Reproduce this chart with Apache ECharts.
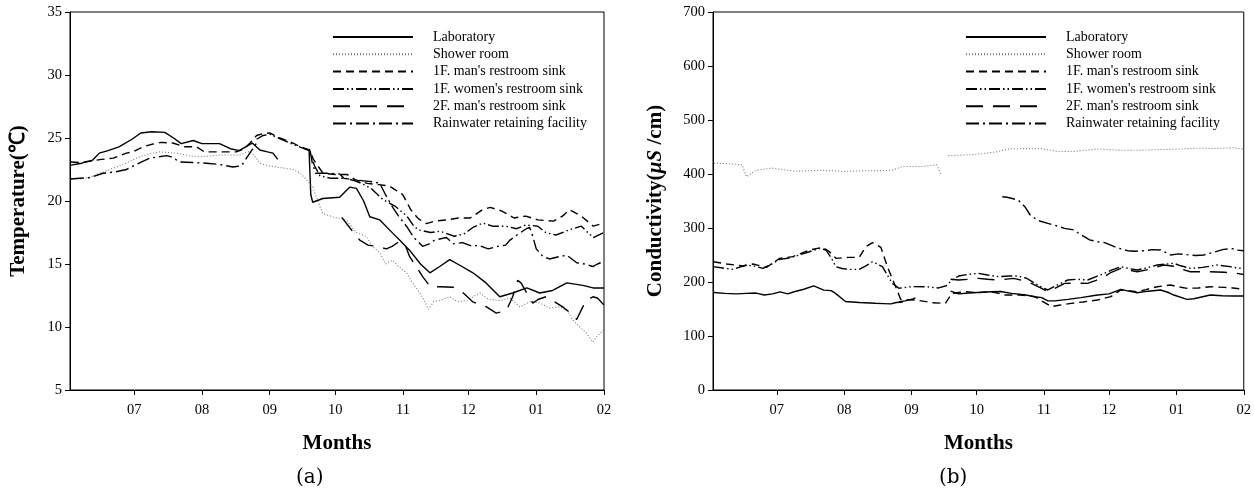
<!DOCTYPE html>
<html>
<head>
<meta charset="utf-8">
<script src="https://cdn.jsdelivr.net/npm/echarts@6/dist/echarts.min.js"></script>
<style>
  html, body { margin: 0; padding: 0; background: #fff; }
  #chart { width: 1254px; height: 491px; }
</style>
</head>
<body>
<div id="chart"></div>
<script>
// x values are days counted from June 1; month ticks sit on the first day of each month
const monthTicks = [30, 61, 92, 122, 153, 183, 214, 245];
const monthLabels = ['07', '08', '09', '10', '11', '12', '01', '02'];
const seriesNames = ['Laboratory', 'Shower room', "1F. man's restroom sink", "1F. women's restroom sink", "2F. man's restroom sink", 'Rainwater retaining facility'];
const tempTicks = [5, 35, 5];      // min, max, step (°C)
const condTicks = [0, 700, 100];   // min, max, step (µS/cm)

// ---- (a) temperature, °C ----
const tempLab = [[1,22.85],[6,23.0],[11,23.25],[14,23.8],[18,24.0],[23,24.3],[29,24.9],[33,25.4],[38,25.5],[44,25.45],[48,25.0],[51.5,24.55],[57,24.8],[61,24.55],[69,24.55],[74,24.15],[78,24.0],[81,24.3],[84,24.6],[87.5,24.05],[91,23.9],[93.5,23.8],[95.7,23.3],[100,null],[110,24.1],[110.8,20.5],[111.7,19.9],[116.3,20.2],[124,20.3],[128.6,21.1],[131.7,21.0],[135,20.0],[137.8,18.75],[142.4,18.5],[148.3,17.45],[152,16.8],[156,16.1],[161,15.0],[165.3,14.3],[169.8,14.8],[174.4,15.35],[179,14.9],[185,14.3],[191,13.5],[197.3,12.4],[203.2,12.7],[209.7,13.1],[215.6,12.7],[221.5,12.9],[228,13.5],[235.3,13.3],[240,13.1],[245,13.1]];
const tempShower = [[1,21.8],[5,21.75],[9.7,21.9],[14,22.2],[18.8,22.5],[25,22.9],[31,23.4],[36,23.7],[41.7,23.9],[49.3,23.8],[55,23.6],[60,23.5],[69,23.65],[78.3,23.65],[82.9,23.95],[85,23.6],[87.5,23.0],[91,22.8],[95,22.7],[102.7,22.5],[106,22.2],[108.8,21.7],[111.7,21.1],[114,20.0],[116.3,19.0],[120.9,18.75],[127,18.5],[131.7,17.5],[136.2,17.2],[139,16.4],[142.4,15.9],[145,15.0],[148.3,15.3],[151,14.8],[154.6,14.3],[157,13.6],[160.7,12.7],[163,12.0],[164.7,11.4],[167,12.0],[169.8,12.1],[174.4,12.4],[178,12.0],[182,12.1],[188.2,12.7],[192,12.2],[197.3,12.1],[202,12.3],[206.5,11.6],[211,12.0],[215.6,11.9],[220,11.5],[224.8,11.6],[228,11.3],[230.7,10.55],[234,10.0],[237,9.5],[239.9,8.8],[242,9.3],[245,9.8]];
const tempMan1F = [[1,23.1],[5,23.05],[9.5,23.15],[15,23.3],[20.4,23.4],[26.4,23.8],[29.5,23.9],[34,24.3],[38,24.5],[42.2,24.65],[47.6,24.6],[53.1,24.3],[58.5,24.3],[62.1,23.9],[69.4,23.9],[76.7,23.9],[80.3,24.15],[83,24.6],[86,25.2],[89,25.35],[92,25.4],[96,25.05],[102.7,24.6],[106,24.3],[110.3,24.05],[112,23.3],[114.8,22.6],[116.4,22.2],[122,22.1],[127.5,22.1],[131.1,21.7],[136.6,21.4],[142,21.3],[146.6,21.2],[149.3,20.9],[152.9,20.5],[156.6,19.3],[160,18.6],[163.7,18.2],[167.5,18.4],[172.9,18.5],[178.4,18.65],[183.8,18.65],[189.3,19.3],[192.9,19.5],[198.3,19.2],[203.8,18.65],[209.2,18.8],[214.7,18.5],[221.9,18.4],[226,18.8],[229.2,19.3],[234.6,18.8],[240.1,18.0],[245,18.25]];
const tempWoman1F = [[86,24.9],[89,25.2],[92,25.3],[96,25.0],[102.7,24.5],[110,24.0],[112.5,22.8],[115,22.0],[120,21.8],[127,21.8],[131,21.6],[134,21.4],[138.4,21.0],[143.9,20.1],[149.3,19.6],[154.8,18.8],[158,18.0],[160.2,17.7],[165.6,17.5],[170,17.6],[176.5,17.2],[181,17.4],[185,17.9],[189.5,18.25],[194,18.0],[200,18.0],[205,17.8],[209.2,18.1],[214.7,18.0],[218.3,17.5],[223,17.3],[229,17.7],[234.6,18.0],[237,17.6],[240.1,17.1],[245,17.5]];
const tempMan2F = [[125,18.7],[129,17.8],[133.2,16.9],[137,16.5],[140.9,16.4],[145.4,16.2],[148,16.4],[151.5,16.8],[154,16.5],[156,15.6],[159,14.8],[162,14.0],[165.5,13.2],[170,13.2],[176,13.15],[180.6,12.7],[184.9,12.0],[188,11.8],[191.2,11.6],[195.7,11.1],[200.3,11.3],[203.2,12.4],[205.5,13.7],[207,13.5],[209,12.9],[212.4,11.9],[215,12.2],[218.5,12.4],[221.5,12.1],[226.1,11.6],[229,11.2],[232.5,10.6],[235,11.5],[237,12.1],[239.9,12.4],[242,12.3],[245,11.75]];
const tempRain = [[1,21.75],[5,21.8],[9.7,21.85],[15.7,22.2],[21,22.3],[26.4,22.5],[31,22.9],[37.1,23.4],[44.8,23.6],[47,23.5],[50.8,23.1],[56.9,23.05],[63,23.0],[69.1,22.9],[75.2,22.7],[79.1,22.8],[82.9,23.8],[86,24.6],[88,null],[110.5,24.0],[111.5,23.0],[113,22.2],[118,22.2],[124,22.15],[126,21.8],[130,21.7],[135,21.6],[140,21.5],[142.4,21.4],[145,20.5],[148.3,19.5],[151,18.8],[154.6,18.0],[158,17.1],[162,16.4],[165,16.6],[167.5,16.9],[172.9,17.1],[176,16.6],[180.2,16.7],[184.9,16.4],[187.4,16.5],[192,16.2],[196.5,16.4],[200,16.5],[202,16.9],[206,17.4],[209.5,17.8],[211,17.9],[212.4,17.2],[214,16.2],[217,15.6],[220,15.4],[224.8,15.6],[228,15.7],[232.5,15.1],[236,15.0],[239.9,14.8],[242,15.0],[245,15.2]];

// ---- (b) conductivity, µS/cm ----
const condLab = [[1,180.5],[6,179],[11.4,178],[16,179],[20.5,179.5],[24.2,176],[28,178],[31.5,181.6],[35,178],[38,182],[42.4,186.6],[47,192.8],[51.6,185],[55,184],[57,179],[61.6,164],[68,162],[75.3,160.6],[79,160],[82.6,159.4],[85,162],[88,163],[90,null],[110,183],[113.7,178],[120,180],[128.9,182],[133,182.5],[138.1,179],[144.7,176],[148.8,172.8],[152,171],[154.8,165],[158,165],[164,167.9],[170,171],[177.7,175.9],[183,178],[188.4,186.4],[192,183],[196,180.2],[201,183],[206.7,185.2],[210,181],[212.8,175.9],[218.9,167.9],[222,169],[229.6,175.9],[235,174.5],[240,174],[245,174]];
const condShower = [[1,420],[8,419],[14,417],[15.5,400],[16,395],[20.5,407],[27.8,411],[33,408],[38.8,405],[49.7,407],[60.7,405],[71.7,406],[82.6,406.5],[88.1,414],[97.2,414],[103.6,417],[105.4,400],[106.5,null],[109,434],[119.2,435.6],[126.5,438.6],[131,441],[137.4,446.7],[145,447],[152,446.7],[156,444],[159.3,441.7],[166.6,441.7],[172,444],[177.6,446],[184,445],[190.4,443.6],[196,444],[203.2,444.8],[214.1,446],[225.1,448],[231,447],[236.1,448],[240,448.5],[245,446]];
const condMan1F = [[0.7,237.6],[6.9,233.3],[14.5,229.6],[19,233.3],[25.2,227.2],[31.3,243.8],[37.4,246.9],[45,259.3],[51.1,264.2],[54.2,256.1],[57.2,243.8],[63.3,245.6],[67.9,245.6],[71,265.4],[74.1,272.8],[77.9,264.2],[80.9,228.4],[84.7,191.3],[87,167.9],[93.8,166.7],[101.5,161.7],[107.6,160.5],[110.6,179],[116.7,182],[122,180],[128.9,182],[135,175.9],[142,176],[148.8,172.8],[152,165],[156.4,154.3],[160,157],[165.5,160.5],[171,163],[177.7,166.7],[183.8,172.8],[188.4,185.2],[192,184],[196,182],[200,186],[205.2,191.3],[211.3,194.4],[215,191],[218.9,188.3],[224,189],[229.6,191.3],[236,190],[240,189],[245,186.4]];
const condWoman1F = [[0.7,228.4],[5,226],[9.8,223.4],[16,231.5],[20,229],[23.6,225.3],[27,232],[31.3,242],[35,244],[40.4,250],[45,256],[49.6,262.3],[52.6,259.3],[55,245],[57.2,228.4],[60,225],[63.3,223.4],[67.9,223.4],[71,230],[74.1,237.6],[78.6,228.4],[81,212],[83.2,197.5],[86.2,188.3],[92,191.5],[98.4,191.3],[104.5,189],[108,193],[110.6,203.7],[113.7,211],[118,214],[122.8,216],[127,213],[132,209.9],[137,211],[141.1,211],[145,207],[148.8,197.5],[152,190],[154.8,185.2],[159,194],[164,203.7],[168,205],[173.1,203.7],[177,210],[180.8,216],[184,222],[188.4,228.4],[192,225],[196,222.2],[200,226],[205.2,231.5],[212.8,234.6],[216,230],[220.4,225.3],[226,227],[232.6,231.5],[238.7,228.4],[242,226],[245,225]];
const condMan2F = [[86.2,163.5],[89,165],[92.3,168],[96.9,176],[97.5,null],[110,205],[113.7,203.7],[118,205],[122.8,206.8],[127,205],[132,203.7],[139,206.8],[143,203],[147.2,197.5],[151,190],[154.8,182],[158,188],[162.5,197.5],[168,198],[173.1,197.5],[177,203],[180.8,209.9],[184,218],[188.4,225.3],[192,222],[196,219],[202,224],[208.2,231.5],[214.3,228.4],[217,223],[220.4,219],[225,219],[229.6,219],[236,218],[241.8,216],[245,214]];
const condRain = [[133.8,358],[136,357],[138,355],[141.1,351.9],[144.2,339.4],[146.5,325],[148.8,318],[151,313],[154.8,308.6],[158,305],[162.5,299.4],[167.1,296.3],[169,290],[171.6,283.9],[174,278],[177.7,274.6],[181,273],[185.4,265.4],[188,262],[191.5,258],[195,257],[199.1,258],[203,260],[206.7,259.3],[209,255],[211.3,250],[215,252],[220.4,250],[223,249],[226.6,250],[231,255],[235.7,260.5],[240.3,261.7],[242,259],[245,258]];

const SERIF = '"Liberation Serif", "Times New Roman", serif';

// line look for each site, in legend order
const lineLooks = [
  { color: '#000', width: 1.4, type: 'solid' },
  { color: '#777', width: 1.1, type: [1, 2] },
  { color: '#000', width: 1.4, type: [8, 5] },
  { color: '#000', width: 1.4, type: [11, 3, 1.5, 3, 1.5, 3] },
  { color: '#000', width: 1.4, type: [17, 10] },
  { color: '#000', width: 1.4, type: [13, 4, 2, 4] }
];

const tempData = [tempLab, tempShower, tempMan1F, tempWoman1F, tempMan2F, tempRain];
const condData = [condLab, condShower, condMan1F, condWoman1F, condMan2F, condRain];

function makeSeries(dataSets, axisIndex) {
  return dataSets.map((d, i) => ({
    name: seriesNames[i],
    type: 'line',
    xAxisIndex: axisIndex,
    yAxisIndex: axisIndex,
    data: d,
    symbol: 'none',
    showSymbol: false,
    smooth: false,
    connectNulls: false,
    silent: true,
    animation: false,
    lineStyle: { color: lineLooks[i].color, width: lineLooks[i].width, type: lineLooks[i].type },
    itemStyle: { color: lineLooks[i].color }
  }));
}

function xAxisFor(gridIndex) {
  return {
    type: 'value',
    gridIndex: gridIndex,
    min: 0.6,
    max: 245,
    axisLine: { show: true, onZero: false, lineStyle: { color: '#000', width: 1 } },
    axisTick: { show: true, inside: false, length: 5, customValues: monthTicks, lineStyle: { color: '#000' } },
    axisLabel: {
      show: true,
      customValues: monthTicks,
      margin: 13,
      color: '#000',
      fontFamily: SERIF,
      fontSize: 14.5,
      formatter: v => monthLabels[monthTicks.indexOf(Math.round(v))] || ''
    },
    splitLine: { show: false },
    name: 'Months',
    nameLocation: 'middle',
    nameGap: 43,
    nameTextStyle: { color: '#000', fontFamily: SERIF, fontSize: 21, fontWeight: 'bold' }
  };
}

function yAxisFor(gridIndex, ticks, name, gap, rich) {
  return {
    type: 'value',
    gridIndex: gridIndex,
    min: ticks[0],
    max: ticks[1],
    interval: ticks[2],
    axisLine: { show: true, onZero: false, lineStyle: { color: '#000', width: 1 } },
    axisTick: { show: true, inside: false, length: 5, lineStyle: { color: '#000' } },
    axisLabel: { color: '#000', fontFamily: SERIF, fontSize: 14.5, margin: 8 },
    splitLine: { show: false },
    name: name,
    nameLocation: 'middle',
    nameGap: gap,
    nameRotate: 90,
    nameTextStyle: { color: '#000', fontFamily: SERIF, fontSize: 21, fontWeight: 'bold', rich: rich || {} }
  };
}

function legendFor(left) {
  return {
    show: true,
    orient: 'vertical',
    left: left,
    top: 25,
    itemWidth: 80,
    itemHeight: 14,
    itemGap: 3.3,
    selectedMode: false,
    data: seriesNames,
    // line samples only, no marker in the middle
    itemStyle: { opacity: 0, borderWidth: 0 },
    textStyle: { color: '#000', fontFamily: SERIF, fontSize: 14, padding: [0, 0, 0, 15] }
  };
}

const chart = echarts.init(document.getElementById('chart'), null, { renderer: 'canvas' });
chart.setOption({
  backgroundColor: '#fff',
  animation: false,
  grid: [
    { left: 70, top: 12, width: 534, height: 378, show: true, borderColor: '#000', borderWidth: 1, backgroundColor: 'transparent' },
    { left: 713, top: 12, width: 534, height: 378, show: true, borderColor: '#000', borderWidth: 1, backgroundColor: 'transparent' }
  ],
  legend: [legendFor(327), legendFor(960)],
  xAxis: [xAxisFor(0), xAxisFor(1)],
  yAxis: [
    yAxisFor(0, tempTicks, 'Temperature(℃)', 41),
    yAxisFor(1, condTicks, 'Conductivity({i|µS} /cm)', 47, {
      i: { fontFamily: SERIF, fontSize: 21, fontWeight: 'bold', fontStyle: 'italic', color: '#000' }
    })
  ],
  graphic: [
    { type: 'text', left: 296, top: 468, style: { text: '(a)', font: '20px "DejaVu Serif", serif', fill: '#000' } },
    { type: 'text', left: 939, top: 468, style: { text: '(b)', font: '20px "DejaVu Serif", serif', fill: '#000' } }
  ],
  series: [...makeSeries(tempData, 0), ...makeSeries(condData, 1)]
});
</script>
</body>
</html>
